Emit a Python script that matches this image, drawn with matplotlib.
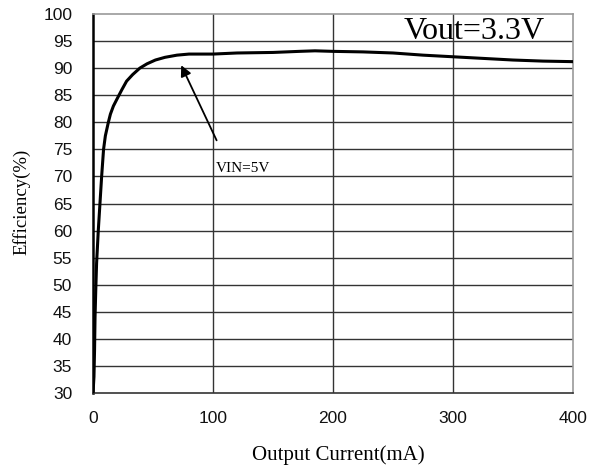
import matplotlib
matplotlib.use("Agg")
import matplotlib.pyplot as plt

current_ma = [0, 0.8, 1.3, 1.7, 2.3, 3, 4.4, 5.8, 7.2, 8.8, 10.3, 12.8, 14.5, 17, 20, 24, 28, 33, 39, 45,
              52, 60, 70, 80, 100, 120, 150, 172, 185, 200, 225, 250, 275, 300, 325, 350, 375, 400]
efficiency = [30, 33, 38, 44, 49, 54, 60, 65, 70, 75, 77.5, 80, 81.5, 83, 84.3, 86, 87.6, 88.8, 90, 90.8,
              91.5, 92.0, 92.4, 92.6, 92.6, 92.8, 92.9, 93.1, 93.2, 93.1, 93.0, 92.8, 92.4, 92.1, 91.8, 91.5, 91.3, 91.2]

x_ticks = [0, 100, 200, 300, 400]
y_ticks = list(range(30, 101, 5))

plt.rcParams['font.family'] = ['Liberation Serif', 'DejaVu Serif']

W, H = 606, 466
fig = plt.figure(figsize=(W / 100, H / 100), dpi=100)
ax = fig.add_axes([93/W, 73/H, 480/W, 379/H])

ax.set_xlim(0, 400)
ax.set_ylim(30, 100)
ax.set_xticks(x_ticks)
ax.set_yticks(y_ticks)
ax.tick_params(length=0, labelsize=12.5, pad=13)
ax.tick_params(axis='y', pad=15)
for lab in ax.get_xticklabels() + ax.get_yticklabels():
    lab.set_fontfamily(['Liberation Sans', 'DejaVu Sans'])
    lab.set_color('#111111')

for v in y_ticks[1:-1]:
    ax.axhline(v, color='#333333', lw=1.0, zorder=1)
for v in x_ticks[1:-1]:
    ax.axvline(v, color='#333333', lw=1.0, zorder=1)

ax.plot(current_ma, efficiency, color='black', lw=2.2, zorder=3)

for s in ['top', 'right']:
    ax.spines[s].set_color('#999999')
    ax.spines[s].set_linewidth(1.2)
ax.spines['left'].set_color('black')
ax.spines['left'].set_linewidth(1.8)
ax.spines['bottom'].set_color('#333333')
ax.spines['bottom'].set_linewidth(1.2)

ax.text(318, 95.4, 'Vout=3.3V', fontsize=23, ha='center', va='baseline')
ax.annotate('', xy=(72.5, 91.0), xytext=(104, 76.2),
            arrowprops=dict(arrowstyle='-|>', color='black', lw=1.3, mutation_scale=16))
ax.text(102.5, 70.8, 'VIN=5V', fontsize=11, ha='left', va='baseline')

fig.text(338/W, 1 - 460/H, 'Output Current(mA)', fontsize=15, ha='center', va='baseline')
fig.text(21/W, 1 - 202/H, 'Efficiency(%)', fontsize=13.5, ha='center', va='center', rotation=90)

fig.savefig('out.png', dpi=100)
